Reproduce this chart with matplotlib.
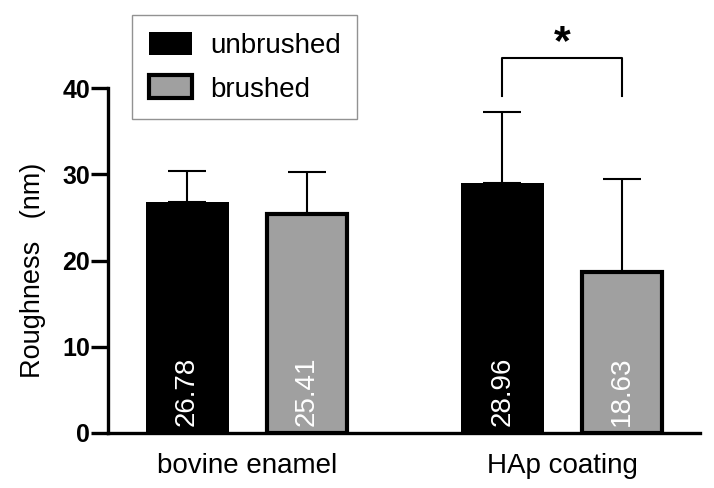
import numpy as np
import matplotlib
matplotlib.use("Agg")
import matplotlib.pyplot as plt
from matplotlib.patches import Patch

plt.rcParams["font.family"] = ["Liberation Sans", "DejaVu Sans"]

groups = ["bovine enamel", "HAp coating"]
series = ["unbrushed", "brushed"]
means_unbrushed = [26.78, 28.96]
means_brushed = [25.41, 18.63]
sd_unbrushed = [3.6, 8.3]
sd_brushed = [4.9, 10.9]
yticks = [0, 10, 20, 30, 40]

GRAY = "#a0a0a0"

fig = plt.figure(figsize=(7.14, 4.88), dpi=100)
ax = fig.add_axes([108 / 714, 55.5 / 488, 592 / 714, 430 / 488])

x = np.arange(len(groups))
offset = 0.19
width = 0.263

ax.bar(x - offset, means_unbrushed, width, color="black", edgecolor="black",
       linewidth=0, zorder=2)
ax.bar(x + offset, means_brushed, width * 0.97, color=GRAY, edgecolor="black",
       linewidth=3, zorder=2)

for xs, m, s in [(x - offset, means_unbrushed, sd_unbrushed),
                 (x + offset, means_brushed, sd_brushed)]:
    ax.errorbar(xs, m, yerr=[np.zeros(len(s)), s], fmt="none", ecolor="black",
                elinewidth=1.5, capsize=14, capthick=1.5, zorder=1)

# value labels inside bars
for xs, m, in [(x - offset, means_unbrushed), (x + offset, means_brushed)]:
    for xi, v in zip(xs, m):
        ax.text(xi, 0.8, f"{v:.2f}", rotation=90, ha="center", va="bottom",
                color="white", fontsize=20)

# significance bracket between HAp bars
bx1, bx2 = x[1] - offset, x[1] + offset
ax.plot([bx1, bx1, bx2, bx2], [39.1, 43.5, 43.5, 39.1], color="black",
        lw=1.5, clip_on=False)
ax.text(x[1], 42.9, "*", ha="center", va="bottom", fontsize=31,
        fontweight="bold")

ax.set_xlim(-0.441, 1.438)
ax.set_ylim(0, 50)
ax.spines["left"].set_bounds(0, 40)
ax.spines["top"].set_visible(False)
ax.spines["right"].set_visible(False)
ax.spines["left"].set_linewidth(2.4)
ax.spines["bottom"].set_linewidth(2.4)
ax.set_yticks(yticks)
ax.set_yticklabels([str(t) for t in yticks], fontsize=18, fontweight="bold")
ax.tick_params(axis="y", length=12, width=2.4, pad=1)
ax.set_xticks(x)
ax.set_xticklabels(groups, fontsize=20)
ax.tick_params(axis="x", length=0, pad=15)
ax.set_ylabel("Roughness   (nm)", fontsize=19.5)
ax.yaxis.set_label_coords(-0.105, 0.378)

handles = [Patch(facecolor="black", edgecolor="black", linewidth=0),
           Patch(facecolor=GRAY, edgecolor="black", linewidth=3)]
leg = fig.legend(handles, series, loc="upper left",
                 bbox_to_anchor=(132 / 714, 1 - 15 / 488), fontsize=20,
                 frameon=True, fancybox=False, edgecolor="#777777",
                 handlelength=1.55, handleheight=0.9, handletextpad=0.65,
                 labelspacing=0.6, borderpad=0.6, borderaxespad=0)
leg.get_frame().set_linewidth(1.0)

fig.savefig("out.png", dpi=100)
